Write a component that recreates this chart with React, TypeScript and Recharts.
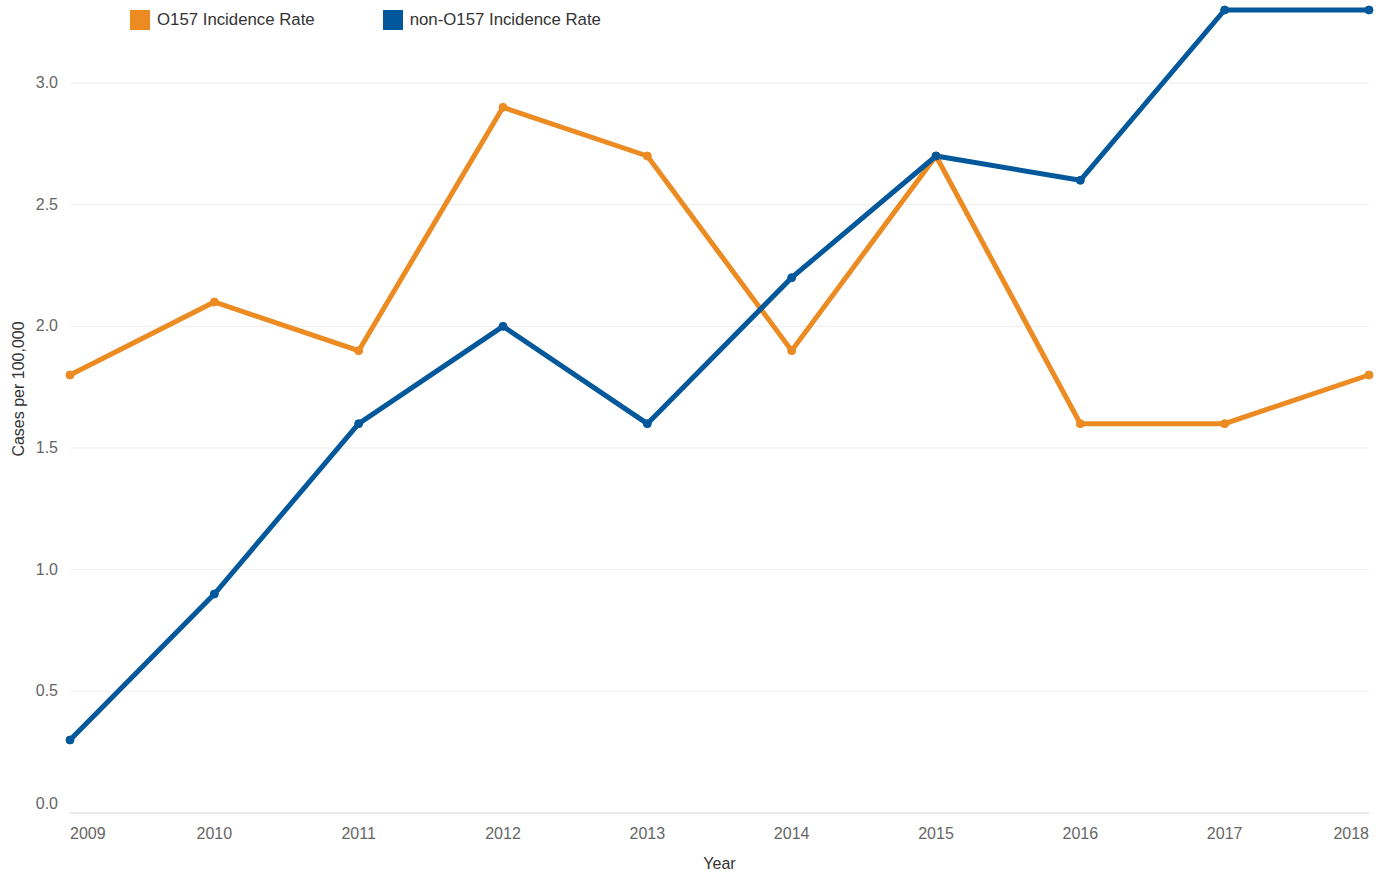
import { LineChart, Line, XAxis, YAxis, CartesianGrid, Label } from 'recharts';

const years = ['2009', '2010', '2011', '2012', '2013', '2014', '2015', '2016', '2017', '2018'];
const o157 = [1.8, 2.1, 1.9, 2.9, 2.7, 1.9, 2.7, 1.6, 1.6, 1.8];
const nonO157 = [0.3, 0.9, 1.6, 2.0, 1.6, 2.2, 2.7, 2.6, 3.3, 3.3];
const yTicks = [0, 0.5, 1, 1.5, 2, 2.5, 3];

const ORANGE = '#ec8b22';
const BLUE = '#02589b';
const FONT = 'Arial, "Liberation Sans", sans-serif';

const data = years.map((year, i) => ({ year, o157: o157[i], nonO157: nonO157[i] }));

const series = [
  { key: 'o157', name: 'O157 Incidence Rate', color: ORANGE },
  { key: 'nonO157', name: 'non-O157 Incidence Rate', color: BLUE },
];

function YearTick(props: any) {
  const { x, y, payload, index } = props;
  let anchor: 'start' | 'middle' | 'end' = 'middle';
  if (index === 0) anchor = 'start';
  if (index === years.length - 1) anchor = 'end';
  return (
    <text x={x} y={y} dy={26} textAnchor={anchor} fill="#666" fontSize={16} fontFamily={FONT}>
      {payload.value}
    </text>
  );
}

function RateTick(props: any) {
  const { x, y, payload } = props;
  // the zero label sits a little above the axis line
  const shift = payload.value === 0 ? -9 : 0;
  return (
    <text x={x} y={y + shift} dy={5} textAnchor="end" fill="#666" fontSize={16} fontFamily={FONT}>
      {Number(payload.value).toFixed(1)}
    </text>
  );
}

function LegendBox() {
  return (
    <div style={{ position: 'absolute', top: 10, left: 130, display: 'flex', fontFamily: FONT, fontSize: 16.8, color: '#333', lineHeight: '20px' }}>
      {series.map((s, i) => (
        <div key={s.key} style={{ display: 'flex', alignItems: 'center', marginRight: i === 0 ? 68 : 0 }}>
          <span style={{ width: 20, height: 20, background: s.color, display: 'inline-block', marginRight: 7 }} />
          <span>{s.name}</span>
        </div>
      ))}
    </div>
  );
}

function YLabel() {
  const cx = 18;
  const cy = 389;
  return (
    <text x={cx} y={cy} transform={`rotate(-90 ${cx} ${cy})`} textAnchor="middle" dominantBaseline="central" fill="#333" fontSize={16} fontFamily={FONT}>
      Cases per 100,000
    </text>
  );
}

export default function App() {
  return (
    <div style={{ position: 'absolute', left: 0, top: 0, width: 1384, height: 875, background: '#fff' }}>
      <LineChart width={1384} height={875} data={data} margin={{ top: 10, right: 15, bottom: 0, left: 0 }}>
        <CartesianGrid vertical={false} stroke="#eeeeee" syncWithTicks />
        <XAxis
          dataKey="year"
          height={62}
          tick={<YearTick />}
          tickLine={false}
          axisLine={{ stroke: '#dddddd' }}
          interval={0}
          tickSize={0}
          tickMargin={0}
        >
          <Label value="Year" position="insideBottom" offset={6} fill="#333" fontSize={16} fontFamily={FONT} />
        </XAxis>
        <YAxis
          width={70}
          domain={[0, 3.3]}
          ticks={yTicks}
          tick={<RateTick />}
          tickLine={false}
          axisLine={false}
          tickSize={0}
          tickMargin={12}
          label={<YLabel />}
        />
        {series.map((s) => (
          <Line
            key={s.key}
            type="linear"
            dataKey={s.key}
            name={s.name}
            stroke={s.color}
            strokeWidth={5}
            dot={{ r: 4, fill: s.color, stroke: s.color, strokeWidth: 1 }}
            isAnimationActive={false}
          />
        ))}
      </LineChart>
      <LegendBox />
    </div>
  );
}
